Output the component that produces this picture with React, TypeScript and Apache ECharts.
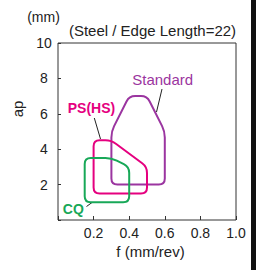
import React, { useEffect, useRef } from 'react';
import * as echarts from 'echarts';

const xTickValues = [0, 0.2, 0.4, 0.6, 0.8, 1.0];
const yTickValues = [0, 2, 4, 6, 8, 10];

const standardF = [0.3, 0.6, 0.6, 0.5, 0.4, 0.3];
const standardAp = [2, 2, 5, 7, 7, 5];
const psF = [0.2, 0.5, 0.5, 0.3, 0.2];
const psAp = [1.5, 1.5, 3, 4.5, 4.5];
const cqF = [0.15, 0.4, 0.4, 0.3, 0.15];
const cqAp = [1, 1, 3, 3.5, 3.5];

const seriesNames = ['Standard', 'PS(HS)', 'CQ'];
const seriesColors = ['#9b35a0', '#e5007f', '#18a858'];

const FONT = '"Liberation Sans", Arial, sans-serif';

function roundedPath(pts: number[][], r: number): string {
  const n = pts.length;
  let d = '';
  for (let i = 0; i < n; i++) {
    const p = pts[i];
    const prev = pts[(i - 1 + n) % n];
    const next = pts[(i + 1) % n];
    const dx1 = prev[0] - p[0], dy1 = prev[1] - p[1];
    const dx2 = next[0] - p[0], dy2 = next[1] - p[1];
    const l1 = Math.hypot(dx1, dy1), l2 = Math.hypot(dx2, dy2);
    const rr = Math.min(r, l1 / 2, l2 / 2);
    const a = [p[0] + (dx1 / l1) * rr, p[1] + (dy1 / l1) * rr];
    const b = [p[0] + (dx2 / l2) * rr, p[1] + (dy2 / l2) * rr];
    d += (i === 0 ? 'M' : 'L') + a[0] + ' ' + a[1] + ' ';
    d += 'Q' + p[0] + ' ' + p[1] + ' ' + b[0] + ' ' + b[1] + ' ';
  }
  return d + 'Z';
}

function makeSeries(fs: number[], aps: number[], idx: number) {
  const data = fs.map((f, i) => [f, aps[i]]);
  return {
    type: 'custom',
    name: seriesNames[idx],
    data,
    silent: true,
    renderItem: (params: any, api: any) => {
      if (params.dataIndex !== 0) return null;
      const pts = data.map((v) => api.coord(v));
      return {
        type: 'path',
        shape: { pathData: roundedPath(pts, 6) },
        style: { fill: 'none', stroke: seriesColors[idx], lineWidth: 2 },
      };
    },
  };
}

export default function App() {
  const ref = useRef<HTMLDivElement>(null);
  useEffect(() => {
    if (!ref.current) return;
    const chart = echarts.init(ref.current, null, { renderer: 'svg' });
    chart.setOption({
      animation: false,
      backgroundColor: '#ffffff',
      grid: {
        left: 58,
        top: 43,
        width: 178,
        height: 177,
        show: true,
        borderColor: '#333',
        borderWidth: 1,
        containLabel: false,
      },
      xAxis: {
        type: 'value',
        min: xTickValues[0],
        max: xTickValues[xTickValues.length - 1],
        interval: 0.2,
        axisLine: { show: false },
        splitLine: { show: false },
        axisTick: { show: true, inside: true, length: 4, lineStyle: { color: '#333' } },
        axisLabel: {
          margin: 6,
          fontSize: 14,
          fontFamily: FONT,
          color: '#222',
          formatter: (v: number) => (v === 0 ? '' : v.toFixed(1)),
        },
      },
      yAxis: {
        type: 'value',
        min: yTickValues[0],
        max: yTickValues[yTickValues.length - 1],
        interval: 2,
        axisLine: { show: false },
        splitLine: { show: false },
        axisTick: { show: true, inside: true, length: 3, lineStyle: { color: '#333' } },
        axisLabel: {
          margin: 14,
          align: 'center',
          fontSize: 14,
          fontFamily: FONT,
          color: '#222',
          formatter: (v: number) => (v === 0 ? '' : String(v)),
        },
      },
      series: [
        makeSeries(standardF, standardAp, 0),
        makeSeries(psF, psAp, 1),
        makeSeries(cqF, cqAp, 2),
      ],
      graphic: [
        { type: 'rect', shape: { x: 251, y: 0, width: 5, height: 270 }, style: { fill: '#111' } },
        { type: 'text', x: 43.5, y: 17, style: { text: '(mm)', fontSize: 14, fontFamily: FONT, fill: '#222', align: 'center', verticalAlign: 'middle' } },
        { type: 'text', x: 152.5, y: 30, style: { text: '(Steel / Edge Length=22)', fontSize: 15, fontFamily: FONT, fill: '#222', align: 'center', verticalAlign: 'middle' } },
        { type: 'text', x: 17, y: 109, rotation: Math.PI / 2, style: { text: 'ap', fontSize: 15, fontFamily: FONT, fill: '#222', align: 'center', verticalAlign: 'middle' } },
        { type: 'text', x: 150.5, y: 251, style: { text: 'f (mm/rev)', fontSize: 15, fontFamily: FONT, fill: '#222', align: 'center', verticalAlign: 'middle' } },
        { type: 'text', x: 162.7, y: 79, style: { text: 'Standard', fontSize: 15, fontFamily: FONT, fill: seriesColors[0], align: 'center', verticalAlign: 'middle' } },
        { type: 'text', x: 91.5, y: 108, style: { text: 'PS(HS)', fontSize: 14, fontWeight: 'bold', fontFamily: FONT, fill: seriesColors[1], align: 'center', verticalAlign: 'middle' } },
        { type: 'text', x: 73.3, y: 209, style: { text: 'CQ', fontSize: 14, fontWeight: 'bold', fontFamily: FONT, fill: seriesColors[2], align: 'center', verticalAlign: 'middle' } },
        { type: 'line', shape: { x1: 162, y1: 89, x2: 156.5, y2: 112 }, style: { stroke: '#222', lineWidth: 1 } },
        { type: 'line', shape: { x1: 94.3, y1: 118, x2: 100.5, y2: 139 }, style: { stroke: '#222', lineWidth: 1 } },
        { type: 'line', shape: { x1: 86.5, y1: 206.5, x2: 92, y2: 202.5 }, style: { stroke: '#222', lineWidth: 1 } },
      ],
    });
    return () => chart.dispose();
  }, []);
  return (
    <div
      ref={ref}
      style={{ position: 'absolute', left: 0, top: 0, width: 256, height: 270 }}
    />
  );
}
